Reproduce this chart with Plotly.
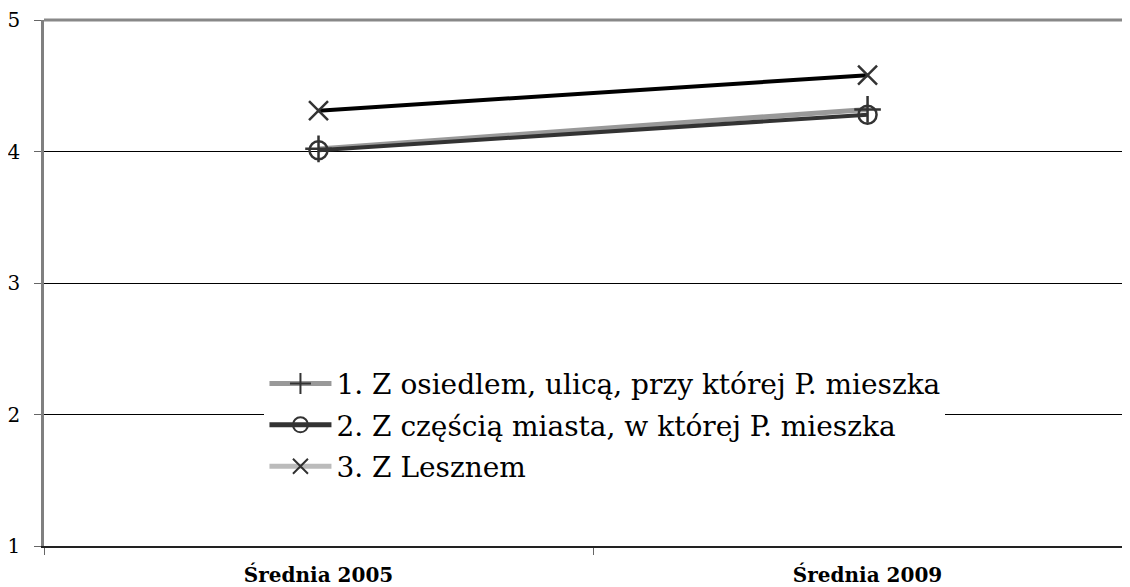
import plotly.graph_objects as go

categories = ["Średnia 2005", "Średnia 2009"]
series_names = [
    "1. Z osiedlem, ulicą, przy której P. mieszka",
    "2. Z częścią miasta, w której P. mieszka",
    "3. Z Lesznem",
]
s1 = [4.02, 4.32]
s2 = [4.01, 4.28]
s3 = [4.31, 4.58]
y_ticks = [1, 2, 3, 4, 5]

FONT = "DejaVu Serif"
MARK = "#333333"

fig = go.Figure()

plot_styles = [
    (s1, "#999999", 5, "cross-thin-open", 19),
    (s2, "#333333", 4, "circle-open", 18),
    (s3, "#000000", 4, "x-thin-open", 19),
]
for vals, col, w, sym, sz in plot_styles:
    fig.add_trace(go.Scatter(
        x=categories, y=vals, mode="lines+markers", showlegend=False,
        line=dict(color=col, width=w),
        marker=dict(symbol=sym, size=sz, color=MARK, line=dict(color=MARK, width=2.5)),
        cliponaxis=False,
    ))

legend_styles = [
    ("#999999", "cross-thin-open"),
    ("#333333", "circle-open"),
    ("#bbbbbb", "x-thin-open"),
]
for i, (name, (col, sym)) in enumerate(zip(series_names, legend_styles)):
    fig.add_trace(go.Scatter(
        x=[None], y=[None], mode="lines+markers", name=name,
        legendgroup=f"g{i}",
        line=dict(color=col, width=5),
        marker=dict(symbol=sym, size=15, color=MARK, line=dict(color=MARK, width=2)),
    ))

# page body has 8px margin: shift figure accordingly
fig.update_layout(
    width=1122, height=579,
    margin=dict(l=34, r=0, t=12, b=39),
    plot_bgcolor="white", paper_bgcolor="white",
    font=dict(family=FONT, color="#000000"),
    showlegend=True,
    legend=dict(
        x=0.203, y=0.356, xanchor="left", yanchor="top",
        bgcolor="white", borderwidth=0,
        font=dict(family=FONT, size=28, color="#000000"),
        itemwidth=62, tracegroupgap=2,
    ),
    xaxis=dict(
        type="category", range=[-0.5, 1.478],
        tickson="boundaries", ticks="outside", ticklen=7, tickcolor="#666666",
        showgrid=False, showline=True, linecolor="#222222", linewidth=2,
        tickfont=dict(family=FONT, size=20, color="#000000", weight="bold"),
        ticklabelstandoff=10,
    ),
    yaxis=dict(
        range=[1, 5], tickvals=y_ticks, ticks="outside", ticklen=7, tickcolor="#666666",
        showgrid=True, gridcolor="#000000", gridwidth=1,
        showline=True, linecolor="#808080", linewidth=2.5,
        tickfont=dict(family=FONT, size=20, color="#000000"),
        ticklabelstandoff=10,
        zeroline=False,
    ),
    shapes=[dict(type="line", xref="paper", yref="paper", x0=0, x1=1, y0=1, y1=1,
                 line=dict(color="#888888", width=3))],
)

fig.write_html("out.html")
